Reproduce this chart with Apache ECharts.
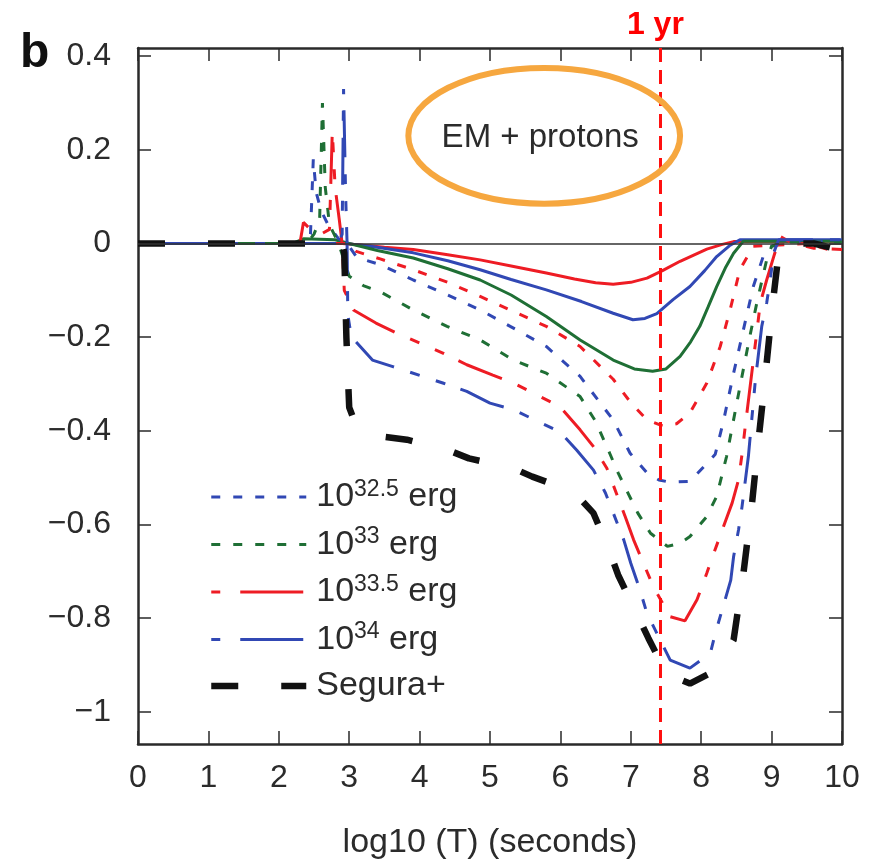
<!DOCTYPE html>
<html>
<head>
<meta charset="utf-8">
<script src="https://cdn.jsdelivr.net/npm/echarts@6/dist/echarts.min.js"></script>
<style>
  html, body { margin: 0; padding: 0; background: #fff; }
  #chart { width: 879px; height: 866px; }
</style>
</head>
<body>
<div id="chart"></div>
<script>
// values: [log10(T), relative change]
const redSolid = [[0,0],[2.9,0],[3.2,-0.004],[3.5,-0.008],[3.91,-0.013],[4.4,-0.024],[4.86,-0.035],[5.3,-0.048],[5.8,-0.063],[6.2,-0.076],[6.5,-0.084],[6.75,-0.087],[7.0,-0.083],[7.23,-0.074],[7.45,-0.058],[7.7,-0.038],[8.08,-0.012],[8.3,-0.002],[8.46,0.004],[10,0.005]];
const blueSolid = [[0,0],[2.95,0],[3.3,-0.006],[3.91,-0.02],[4.4,-0.037],[4.86,-0.056],[5.3,-0.077],[5.8,-0.099],[6.3,-0.124],[6.75,-0.149],[7.03,-0.163],[7.2,-0.16],[7.37,-0.15],[7.6,-0.12],[7.84,-0.092],[8.05,-0.058],[8.22,-0.028],[8.4,-0.005],[8.55,0.008],[10,0.008]];
const greenSolid = [[0,0],[2.2,0],[2.35,0.01],[2.8,0.008],[3.0,0],[3.4,-0.015],[3.91,-0.031],[4.4,-0.054],[4.86,-0.078],[5.3,-0.11],[5.8,-0.156],[6.28,-0.206],[6.75,-0.249],[7.05,-0.268],[7.31,-0.273],[7.5,-0.268],[7.7,-0.241],[7.85,-0.21],[7.98,-0.177],[8.1,-0.135],[8.22,-0.092],[8.35,-0.05],[8.46,-0.021],[8.6,0.005],[10,0.005]];
const redDotted = [[0,0],[2.95,0],[3.1,-0.017],[3.44,-0.033],[3.91,-0.056],[4.4,-0.083],[4.86,-0.113],[5.3,-0.143],[5.8,-0.177],[6.28,-0.22],[6.75,-0.29],[7.0,-0.34],[7.23,-0.377],[7.46,-0.39],[7.65,-0.385],[7.84,-0.362],[8.08,-0.298],[8.27,-0.22],[8.41,-0.142],[8.55,-0.056],[8.74,-0.006],[9.5,0],[9.8,-0.013],[10,-0.013]];
const e325 = [[0,0],[2.3,0],[2.45,0.02],[2.49,0.18],[2.53,0.11],[2.6,0.07],[2.7,0.04],[2.85,0.01],[2.97,0],[3.11,-0.03],[3.44,-0.045],[3.91,-0.078],[4.4,-0.11],[4.86,-0.142],[5.3,-0.178],[5.8,-0.22],[6.28,-0.284],[6.75,-0.377],[6.99,-0.448],[7.23,-0.49],[7.4,-0.505],[7.56,-0.51],[7.84,-0.508],[8.08,-0.47],[8.2,-0.45],[8.32,-0.377],[8.46,-0.277],[8.6,-0.184],[8.74,-0.092],[8.88,-0.028],[9.0,-0.006],[9.2,0.005],[10,0.005]];
const e33 = [[0,0],[2.4,0],[2.5,0.02],[2.58,0.05],[2.62,0.30],[2.66,0.12],[2.72,0.04],[2.85,0],[3.0,-0.07],[3.2,-0.09],[3.44,-0.103],[3.91,-0.142],[4.39,-0.177],[4.86,-0.206],[5.33,-0.249],[5.8,-0.277],[6.28,-0.327],[6.5,-0.38],[6.7,-0.448],[6.82,-0.49],[6.96,-0.533],[7.1,-0.576],[7.28,-0.619],[7.52,-0.647],[7.7,-0.64],[7.84,-0.626],[8.08,-0.583],[8.22,-0.54],[8.36,-0.455],[8.55,-0.306],[8.69,-0.199],[8.79,-0.127],[8.93,-0.035],[9.0,-0.006],[9.2,0.003],[10,0.003]];
const e335 = [[0,0],[2.3,0],[2.35,0.045],[2.45,0.03],[2.6,0.02],[2.72,0.03],[2.76,0.24],[2.8,0.12],[2.86,0.05],[2.9,0],[2.93,-0.1],[3.06,-0.142],[3.38,-0.17],[3.67,-0.191],[4.33,-0.234],[4.67,-0.259],[5.04,-0.281],[5.33,-0.298],[5.99,-0.348],[6.28,-0.398],[6.47,-0.434],[6.66,-0.48],[6.92,-0.583],[7.04,-0.633],[7.18,-0.683],[7.32,-0.733],[7.56,-0.797],[7.77,-0.806],[7.94,-0.761],[8.08,-0.704],[8.18,-0.661],[8.44,-0.554],[8.53,-0.505],[8.58,-0.45],[8.62,-0.398],[8.84,-0.127],[8.93,-0.078],[9.03,-0.028],[9.12,0.015],[9.3,0],[9.6,-0.01],[10,-0.013]];
const e34 = [[0,0],[2.85,0],[2.9,0.02],[2.92,0.33],[2.95,0.1],[2.97,0],[2.98,-0.152],[3.03,-0.199],[3.33,-0.249],[3.62,-0.263],[4.33,-0.298],[4.67,-0.316],[5.0,-0.341],[5.33,-0.355],[5.99,-0.402],[6.23,-0.441],[6.47,-0.484],[6.64,-0.533],[6.9,-0.633],[7.0,-0.683],[7.13,-0.74],[7.23,-0.79],[7.56,-0.89],[7.84,-0.907],[8.13,-0.875],[8.2,-0.833],[8.42,-0.719],[8.46,-0.669],[8.53,-0.612],[8.58,-0.562],[8.67,-0.455],[8.77,-0.291],[8.86,-0.177],[8.93,-0.127],[8.98,-0.078],[9.03,-0.02],[9.1,0.008],[10,0.008]];
const segura = [[0,0],[2.9,0],[2.93,-0.02],[2.96,-0.2],[3.0,-0.35],[3.1,-0.39],[3.44,-0.412],[3.82,-0.419],[4.4,-0.441],[4.7,-0.459],[5.33,-0.48],[5.6,-0.498],[6.0,-0.52],[6.25,-0.54],[6.47,-0.576],[6.7,-0.658],[6.82,-0.708],[7.09,-0.793],[7.25,-0.843],[7.51,-0.92],[7.84,-0.94],[8.1,-0.92],[8.29,-0.89],[8.46,-0.847],[8.6,-0.704],[8.72,-0.558],[8.8,-0.44],[8.9,-0.3],[9.0,-0.15],[9.1,-0.02],[9.2,0],[9.6,0],[10,-0.015]];

const legendNames = ['10^32.5 erg', '10^33 erg', '10^33.5 erg', '10^34 erg', 'Segura+'];
const yTicks = [-1, -0.8, -0.6, -0.4, -0.2, 0, 0.2, 0.4];
const oneYear = 7.42;
const ellipseCenter = [5.77, 0.23];
const ellipseRadius = [1.93, 0.145];

const FONT = '"Liberation Sans", Arial, Helvetica, sans-serif';
const RED = '#ee1c24', BLUE = '#3148b4', GREEN = '#1f6f35', BLACK = '#111';
const TEXT = '#2b2b2b';
const dotted = [9, 13];
const dashLong = [47, 17, 10, 17, 10, 16];
const seguraDash = [27, 43];

const fmtY = v => {
  const r = Math.round(v * 10) / 10;
  return r < 0 ? '\u2212' + String(-r) : String(r);
};

function lineSeries(name, data, color, type, width, extra) {
  return Object.assign({
    name, type: 'line', data, symbol: 'none', silent: true,
    lineStyle: { color, width, type, cap: 'butt' },
    itemStyle: { color }
  }, extra || {});
}

const frameAxis = { lineStyle: { color: '#2a2a2a', width: 2.5 } };
const tickStyle = { inside: true, length: 13, lineStyle: { color: '#2a2a2a', width: 1.5 } };

const option = {
  animation: false,
  backgroundColor: '#fff',
  grid: { left: 138, right: 37, top: 48, bottom: 122, containLabel: false },
  xAxis: [
    {
      type: 'value', min: 0, max: 10, interval: 1, position: 'bottom',
      axisLine: Object.assign({ onZero: false }, frameAxis),
      axisTick: tickStyle,
      splitLine: { show: false },
      axisLabel: { color: TEXT, fontSize: 32, fontFamily: FONT, margin: 18 },
      name: 'log10 (T) (seconds)', nameLocation: 'middle', nameGap: 82,
      nameTextStyle: { color: TEXT, fontSize: 34, fontFamily: FONT }
    },
    {
      type: 'value', min: 0, max: 10, interval: 1, position: 'top',
      axisLine: Object.assign({ onZero: false }, frameAxis),
      axisTick: tickStyle, axisLabel: { show: false }, splitLine: { show: false }
    }
  ],
  yAxis: [
    {
      type: 'value', min: -1.069, max: 0.4175, position: 'left',
      axisLine: Object.assign({ onZero: false }, frameAxis),
      axisTick: Object.assign({ customValues: yTicks }, tickStyle),
      splitLine: { show: false },
      axisLabel: { customValues: yTicks, formatter: fmtY, color: TEXT, fontSize: 32, fontFamily: FONT, margin: 27 }
    },
    {
      type: 'value', min: -1.069, max: 0.4175, position: 'right',
      axisLine: Object.assign({ onZero: false }, frameAxis),
      axisTick: Object.assign({ customValues: yTicks }, tickStyle),
      axisLabel: { show: false }, splitLine: { show: false }
    }
  ],
  legend: {
    data: [
      legendNames[0],
      legendNames[1],
      { name: legendNames[2], lineStyle: { color: RED, width: 3, type: [9, 20, 63, 10], dashOffset: 0 } },
      { name: legendNames[3], lineStyle: { color: BLUE, width: 3, type: [9, 20, 63, 10], dashOffset: 0 } },
      { name: legendNames[4], lineStyle: { color: BLACK, width: 6.5, type: seguraDash, dashOffset: 0 } }
    ],
    orient: 'vertical', left: 208, top: 478, padding: 0,
    itemWidth: 95, itemHeight: 20, itemGap: 10.5,
    selectedMode: false,
    itemStyle: { opacity: 0 },
    lineStyle: { width: 'inherit' },
    textStyle: {
      color: TEXT, fontSize: 34, fontFamily: FONT, lineHeight: 36, padding: [0, 0, 0, 5],
      rich: { sup: { fontSize: 23, fontFamily: FONT, color: TEXT, padding: [0, 0, 15, 0] } }
    },
    formatter: name => {
      const m = name.match(/^10\^(\S+) (.*)$/);
      return m ? '10{sup|' + m[1] + '} ' + m[2] : name;
    }
  },
  series: [
    lineSeries('low red', redSolid, RED, 'solid', 3, {
      markLine: {
        silent: true, symbol: 'none', label: { show: false },
        lineStyle: { color: '#333', width: 1.5, type: 'solid' },
        data: [{ yAxis: 0 }]
      }
    }),
    lineSeries('low blue', blueSolid, BLUE, 'solid', 3),
    lineSeries('low green', greenSolid, GREEN, 'solid', 3),
    lineSeries('mid red', redDotted, RED, dotted, 3),
    lineSeries(legendNames[0], e325, BLUE, dotted, 3),
    lineSeries(legendNames[1], e33, GREEN, dotted, 3),
    lineSeries(legendNames[2], e335, RED, dashLong, 3, { lineStyle: { color: RED, width: 3, type: dashLong, dashOffset: 91, cap: 'butt' } }),
    lineSeries(legendNames[3], e34, BLUE, dashLong, 3, { lineStyle: { color: BLUE, width: 3, type: dashLong, dashOffset: 91, cap: 'butt' } }),
    lineSeries(legendNames[4], segura, BLACK, seguraDash, 6.5, {
      markLine: {
        silent: true, symbol: 'none', label: { show: false },
        lineStyle: { color: '#ff1010', width: 3, type: [14, 8] },
        data: [{ xAxis: oneYear }]
      }
    })
  ]
};

const chart = echarts.init(document.getElementById('chart'), null, { renderer: 'canvas' });
chart.setOption(option);

// annotations placed through the chart's own coordinate system
const c = chart.convertToPixel({ gridIndex: 0 }, ellipseCenter);
const edge = chart.convertToPixel({ gridIndex: 0 }, [ellipseCenter[0] + ellipseRadius[0], ellipseCenter[1] - ellipseRadius[1]]);
const yr = chart.convertToPixel({ gridIndex: 0 }, [oneYear, 0]);
chart.setOption({
  graphic: [
    { type: 'text', left: 20, top: 30, style: { text: 'b', font: 'bold 48px ' + FONT, fill: '#111' } },
    { type: 'text', x: yr[0] - 5, y: 25, style: { text: '1 yr', font: 'bold 32px ' + FONT, fill: '#ff0000', align: 'center', verticalAlign: 'middle' } },
    { type: 'ellipse', shape: { cx: c[0], cy: c[1], rx: edge[0] - c[0], ry: edge[1] - c[1] }, style: { fill: 'none', stroke: '#f6a73f', lineWidth: 6 }, z: 10 },
    { type: 'text', x: c[0] - 4, y: c[1] + 2, style: { text: 'EM + protons', font: '33px ' + FONT, fill: TEXT, align: 'center', verticalAlign: 'middle' }, z: 11 }
  ]
});
</script>
</body>
</html>
